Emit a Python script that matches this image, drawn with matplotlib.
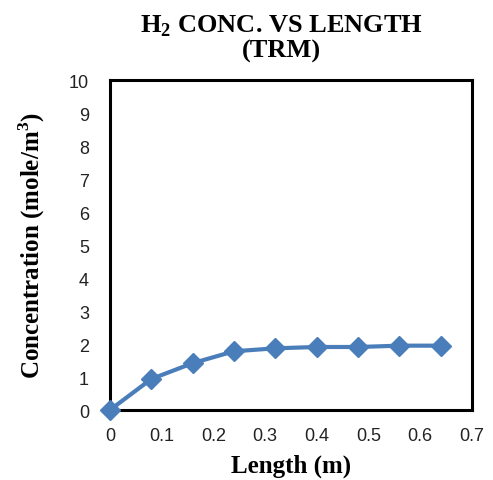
import numpy as np
import matplotlib
matplotlib.use('Agg')
import matplotlib.pyplot as plt

#data
length = [0, 0.08, 0.16, 0.24, 0.32, 0.40, 0.48, 0.56, 0.64]
conc = [0, 0.94, 1.42, 1.78, 1.87, 1.91, 1.91, 1.95, 1.95]
xticks = np.arange(0, 0.71, 0.1)
yticks = np.arange(0, 11, 1)

serif = 'Liberation Serif'
sans = 'Liberation Sans'

fig = plt.figure(figsize=(4.93, 4.81), dpi=100)
ax = fig.add_axes([0.223, 0.1455, 0.734, 0.686])

ax.plot(length, conc, color='#4a7ebb', lw=3, marker='D', ms=10,
        markerfacecolor='#4a7ebb', markeredgecolor='#4a7ebb', clip_on=False, zorder=3)

ax.set_xlim(0, 0.7)
ax.set_ylim(0, 10)
ax.set_xticks(xticks)
ax.set_yticks(yticks)
ax.set_xticklabels(['0' if v == 0 else ('%.1f' % v) for v in xticks], fontfamily=sans, fontsize=13, color='#222222')
ax.set_yticklabels([str(int(v)) for v in yticks], fontfamily=sans, fontsize=13, color='#222222')
ax.tick_params(axis='x', length=0, pad=12)
ax.tick_params(axis='y', length=0, pad=15)
for s in ax.spines.values():
    s.set_linewidth(2.2)
    s.set_color('black')

ax.set_title('H$_\\mathregular{2}$ CONC. VS LENGTH\n(TRM)', fontfamily=serif, fontweight='bold',
             fontsize=19, pad=17, linespacing=1.05, x=0.475)
ax.set_xlabel('Length (m)', fontfamily=serif, fontweight='bold', fontsize=18, labelpad=7)
ax.set_ylabel('Concentration (mole/m$^\\mathregular{3}$)', fontfamily=serif, fontweight='bold',
              fontsize=18, labelpad=16)

fig.savefig('out.png', dpi=100)
